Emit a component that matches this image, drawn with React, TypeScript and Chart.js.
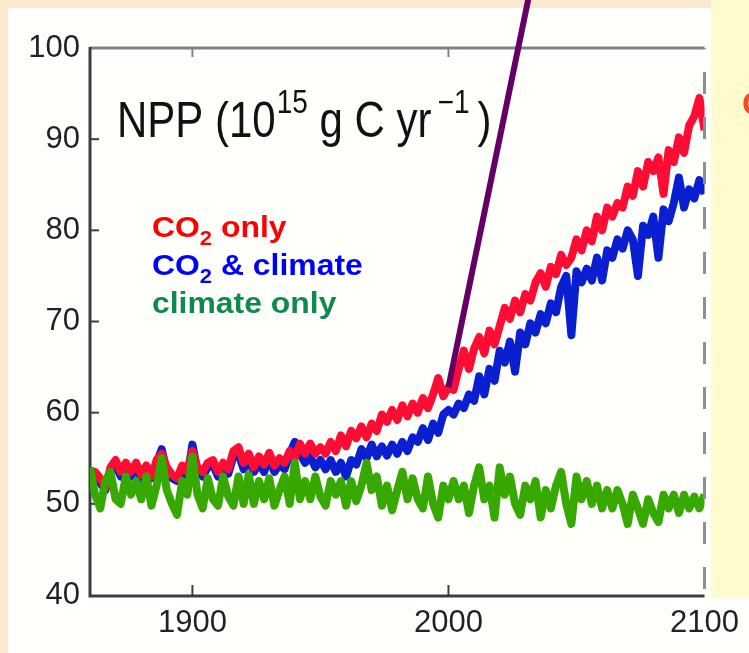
import { useEffect, useRef } from "react";
import { Chart, registerables } from "chart.js";

Chart.register(...registerables);

const years = [
  1860, 1862, 1864, 1866, 1868, 1870, 1872, 1874, 1876, 1878,
  1880, 1882, 1884, 1886, 1888, 1890, 1892, 1894, 1896, 1898,
  1900, 1902, 1904, 1906, 1908, 1910, 1912, 1914, 1916, 1918,
  1920, 1922, 1924, 1926, 1928, 1930, 1932, 1934, 1936, 1938,
  1940, 1942, 1944, 1946, 1948, 1950, 1952, 1954, 1956, 1958,
  1960, 1962, 1964, 1966, 1968, 1970, 1972, 1974, 1976, 1978,
  1980, 1982, 1984, 1986, 1988, 1990, 1992, 1994, 1996, 1998,
  2000, 2002, 2004, 2006, 2008, 2010, 2012, 2014, 2016, 2018,
  2020, 2022, 2024, 2026, 2028, 2030, 2032, 2034, 2036, 2038,
  2040, 2042, 2044, 2046, 2048, 2050, 2052, 2054, 2056, 2058,
  2060, 2062, 2064, 2066, 2068, 2070, 2072, 2074, 2076, 2078,
  2080, 2082, 2084, 2086, 2088, 2090, 2092, 2094, 2096, 2098,
  2100,
];

const co2Only = [
  52.5, 53.5, 52.8, 51.8, 54.0, 54.8, 53.5, 54.5, 53.5, 54.5,
  53.2, 54.2, 53.0, 54.8, 55.5, 54.0, 53.2, 52.8, 54.2, 53.5,
  55.8, 54.0, 53.5, 54.5, 54.8, 53.5, 54.5, 53.8, 55.8, 56.2,
  54.5, 55.5, 54.0, 55.2, 54.3, 55.6, 54.2, 55.0, 54.5, 55.8,
  55.0, 56.6, 55.5, 56.6, 55.5, 56.2, 55.5, 56.8, 55.8, 57.5,
  56.3, 58.0, 57.2, 58.5, 57.3, 58.8, 58.0, 59.8, 59.0, 60.3,
  59.2, 60.8, 59.6, 61.0, 60.0, 61.6, 60.5, 62.0, 63.8, 61.8,
  62.8, 62.5, 64.8, 66.8, 64.8, 67.0, 68.3, 66.5, 69.0, 67.5,
  69.5, 71.5, 70.3, 72.3, 71.0, 73.0, 72.3, 74.3, 75.3, 73.8,
  76.0, 75.2, 77.3, 76.2, 77.0, 79.0, 77.8, 80.0, 78.8, 81.5,
  80.0, 82.5, 81.5, 83.0, 82.5, 84.8, 83.8, 86.5, 84.8, 87.5,
  86.5, 88.0, 84.0, 88.8, 87.5, 90.2, 88.5, 91.5, 92.5, 94.5,
  91.0,
];

const co2Climate = [
  52.0, 53.0, 52.3, 51.5, 53.5, 54.3, 53.0, 54.0, 53.0, 54.0,
  52.8, 53.8, 52.8, 54.5, 56.0, 53.5, 52.8, 52.5, 53.8, 53.0,
  56.5, 53.5, 53.0, 54.0, 54.3, 53.0, 54.0, 53.3, 55.2, 55.5,
  53.8, 54.8, 53.5, 54.5, 53.5, 55.0, 53.5, 54.3, 53.8, 55.5,
  56.8, 55.5, 54.5, 55.2, 54.0, 54.8, 53.8, 54.8, 53.5, 54.5,
  53.0, 54.8, 54.3, 56.0, 55.0, 56.5, 55.2, 56.3, 55.3, 56.5,
  55.5, 56.8, 55.8, 57.3, 56.8, 58.3, 57.0, 58.8, 57.8, 59.8,
  60.3, 59.8, 61.0, 60.5, 62.0, 61.3, 64.0, 62.0, 64.8, 63.5,
  66.8, 65.5, 67.8, 64.5, 68.8, 67.5, 69.8, 68.8, 70.8, 69.8,
  72.0, 71.0, 73.8, 75.0, 68.5, 75.5, 74.3, 75.8, 74.5, 77.0,
  74.5, 77.8, 77.0, 79.0, 78.0, 80.0, 79.0, 75.0, 80.5, 79.5,
  81.5, 77.0, 82.3, 81.0, 83.0, 85.8, 82.5, 84.5, 83.5, 85.5,
  84.0,
];

const climateOnly = [
  54.0, 51.0, 49.5, 52.5, 53.5, 50.5, 50.0, 53.0, 51.0, 52.5,
  50.5, 53.0, 49.8, 52.0, 55.0, 51.5, 50.0, 48.8, 52.5, 51.0,
  55.2, 51.0, 49.5, 52.8, 50.5, 49.8, 53.0, 50.8, 49.8, 53.0,
  50.0, 53.2, 50.0, 52.5, 50.5, 52.8, 49.8, 51.5, 53.0, 50.0,
  54.5, 50.5, 52.5, 50.5, 53.0, 50.8, 49.8, 52.5, 51.0, 52.5,
  49.8, 52.5, 50.3, 52.0, 54.5, 51.5, 53.0, 49.8, 52.0, 49.3,
  51.5, 53.5, 50.5, 52.8, 50.5, 49.5, 53.0, 50.0, 48.5, 52.0,
  50.5, 52.5, 50.5, 52.0, 49.0, 52.0, 54.0, 50.5, 52.0, 48.5,
  54.0, 51.0, 53.0, 50.0, 48.8, 52.0, 50.5, 52.5, 48.5, 51.5,
  49.5, 52.0, 53.5, 50.0, 47.8, 53.0, 50.5, 52.5, 50.0, 52.0,
  49.5, 51.5, 49.5, 51.5, 50.0, 47.8, 51.0, 49.5, 47.8, 50.5,
  49.0, 48.0, 51.0, 49.5, 51.0, 49.0, 51.0, 49.5, 50.8, 49.5,
  51.0,
];

const arrowYears = [2000, 2031.2];
const arrowValues = [62.8, 105.4];

const xTickValues = [1900, 2000, 2100];
const yTickValues = [40, 50, 60, 70, 80, 90, 100];

const legendLabels = ["CO", "CO", "climate only"];

const FONT = "'Liberation Sans', Arial, Helvetica, sans-serif";

export default function App() {
  const ref = useRef<HTMLCanvasElement | null>(null);

  useEffect(() => {
    if (!ref.current) return;
    const pts = (vals: number[]) => years.map((x, i) => ({ x, y: vals[i] }));

    const decor = {
      id: "decor",
      beforeDraw(chart: any) {
        const { ctx, width, height } = chart;
        ctx.save();
        ctx.fillStyle = "#FAE9CF";
        ctx.fillRect(0, 0, width, height);
        ctx.fillStyle = "#FFFFFB";
        ctx.fillRect(8, 8, width - 8, height - 8);
        ctx.fillStyle = "#FFFBCE";
        ctx.fillRect(711, 0, width - 711, 598);
        ctx.fillStyle = "#E8502A";
        ctx.font = `bold 34px ${FONT}`;
        ctx.textBaseline = "middle";
        ctx.fillText("C", 742, 106);
        ctx.restore();
      },
      beforeDatasetsDraw(chart: any) {
        const { ctx } = chart;
        const { left, right, top, bottom } = chart.chartArea;
        const xs = chart.scales.x;
        const ys = chart.scales.y;
        ctx.save();
        ctx.lineCap = "butt";
        ctx.strokeStyle = "#7E8389";
        ctx.lineWidth = 3;
        ctx.beginPath();
        ctx.moveTo(left, top);
        ctx.lineTo(right, top);
        ctx.stroke();
        ctx.lineWidth = 2;
        for (const v of [1900, 2000]) {
          const x = xs.getPixelForValue(v);
          ctx.beginPath();
          ctx.moveTo(x, top);
          ctx.lineTo(x, top + 9);
          ctx.stroke();
        }
        ctx.strokeStyle = "#3A3E44";
        ctx.lineWidth = 3;
        ctx.beginPath();
        ctx.moveTo(left, top - 1);
        ctx.lineTo(left, bottom + 1);
        ctx.lineTo(right, bottom + 1);
        ctx.stroke();
        ctx.lineWidth = 2;
        for (const v of [50, 60, 70, 80, 90]) {
          const y = ys.getPixelForValue(v);
          ctx.beginPath();
          ctx.moveTo(left, y);
          ctx.lineTo(left + 9, y);
          ctx.stroke();
        }
        for (const v of [1900, 2000]) {
          const x = xs.getPixelForValue(v);
          ctx.beginPath();
          ctx.moveTo(x, bottom);
          ctx.lineTo(x, bottom - 10);
          ctx.stroke();
        }
        ctx.restore();
      },
      afterDatasetsDraw(chart: any) {
        const { ctx } = chart;
        const { right, top, bottom } = chart.chartArea;
        ctx.save();
        ctx.strokeStyle = "#8A9098";
        ctx.lineWidth = 3;
        ctx.setLineDash([22, 23]);
        ctx.lineDashOffset = 21;
        ctx.beginPath();
        ctx.moveTo(right, top);
        ctx.lineTo(right, bottom);
        ctx.stroke();
        ctx.restore();
      },
      afterDraw(chart: any) {
        const { ctx } = chart;
        ctx.save();
        ctx.fillStyle = "#111111";
        ctx.textBaseline = "alphabetic";
        ctx.translate(117, 137);
        ctx.scale(1, 1.17);
        let x = 0;
        const big = `42px ${FONT}`;
        const small = `28px ${FONT}`;
        ctx.font = big;
        ctx.fillText("NPP (10", x, 0);
        x += ctx.measureText("NPP (10").width + 1;
        ctx.font = small;
        ctx.fillText("15", x, -20.5);
        x += ctx.measureText("15").width;
        ctx.font = big;
        ctx.fillText(" g C yr", x, 0);
        x += ctx.measureText(" g C yr").width + 6;
        ctx.font = small;
        ctx.fillText("\u22121", x, -20.5);
        x += ctx.measureText("\u22121").width + 8;
        ctx.font = big;
        ctx.fillText(")", x, 0);
        ctx.restore();

        const rows = [
          { color: "#FF0000", parts: [legendLabels[0], "2", " only"], base: 237 },
          { color: "#0000FF", parts: [legendLabels[1], "2", " & climate"], base: 275 },
          { color: "#10894C", parts: [legendLabels[2]], base: 313 },
        ];
        for (const r of rows) {
          ctx.save();
          ctx.translate(152, r.base);
          ctx.scale(1.1, 1);
          ctx.fillStyle = r.color;
          let lx = 0;
          r.parts.forEach((p, i) => {
            const isSub = r.parts.length === 3 && i === 1;
            ctx.font = isSub ? `bold 20px ${FONT}` : `bold 29px ${FONT}`;
            ctx.fillText(p, lx, isSub ? 8 : 0);
            lx += ctx.measureText(p).width;
          });
          ctx.restore();
        }
      },
    };

    const chart = new Chart(ref.current, {
      type: "line",
      data: {
        datasets: [
          {
            label: "arrow",
            data: arrowYears.map((x, i) => ({ x, y: arrowValues[i] })),
            borderColor: "#640064",
            borderWidth: 6,
            pointRadius: 0,
            clip: false as any,
          },
          {
            label: "climate only",
            data: pts(climateOnly),
            borderColor: "#36A800",
            borderWidth: 8,
            pointRadius: 0,
            borderJoinStyle: "round",
          },
          {
            label: "CO2 only",
            data: pts(co2Only),
            borderColor: "#FF0C34",
            borderWidth: 8,
            pointRadius: 0,
            borderJoinStyle: "round",
          },
          {
            label: "CO2 & climate",
            data: pts(co2Climate),
            borderColor: "#0A20D0",
            borderWidth: 8,
            pointRadius: 0,
            borderJoinStyle: "round",
          },
        ],
      },
      options: {
        animation: false,
        responsive: false,
        devicePixelRatio: 1,
        layout: { padding: { top: 48, right: 40, left: 0, bottom: 0 } },
        plugins: { legend: { display: false }, tooltip: { enabled: false } },
        elements: { line: { tension: 0 } },
        scales: {
          x: {
            type: "linear",
            min: 1860,
            max: 2100,
            grid: { display: false, drawTicks: false },
            border: { display: false },
            afterBuildTicks: (s: any) => {
              s.ticks = xTickValues.map((v) => ({ value: v }));
            },
            afterFit: (s: any) => {
              s.height = 58;
            },
            ticks: {
              autoSkip: false,
              maxRotation: 0,
              padding: 10,
              color: "#1E2226",
              font: { family: FONT, size: 31 },
              callback: (v: any) => String(v),
            },
          },
          y: {
            min: 40,
            max: 100,
            grid: { display: false, drawTicks: false },
            border: { display: false },
            afterBuildTicks: (s: any) => {
              s.ticks = yTickValues.map((v) => ({ value: v }));
            },
            afterFit: (s: any) => {
              s.width = 90;
            },
            ticks: {
              padding: 10,
              color: "#1E2226",
              font: { family: FONT, size: 31 },
            },
          },
        },
      },
      plugins: [decor],
    });
    return () => chart.destroy();
  }, []);

  return (
    <div style={{ position: "fixed", left: 0, top: 0, width: 749, height: 653 }}>
      <canvas ref={ref} width={749} height={653} style={{ display: "block" }} />
    </div>
  );
}
